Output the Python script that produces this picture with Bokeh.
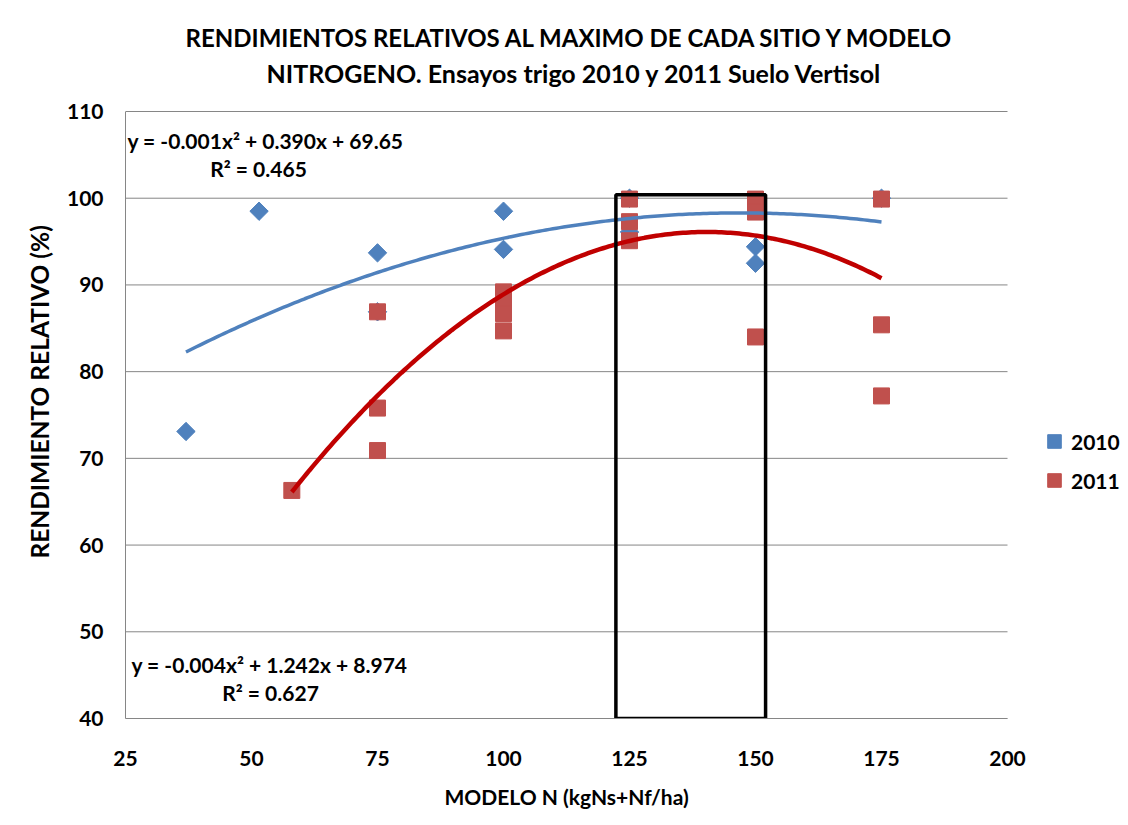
import numpy as np
from bokeh.plotting import figure
from bokeh.models import Range1d, FixedTicker, Label, Legend, LegendItem, Title
from bokeh.embed import file_html
from bokeh.resources import INLINE

# ---------------- data ----------------
x_2010 = [37, 51.5, 75, 75, 100, 100, 125, 125, 150, 150, 175]
y_2010 = [73.1, 98.5, 93.7, 86.9, 98.5, 94.1, 100.0, 96.1, 94.4, 92.5, 100.0]

x_2011 = [58, 75, 75, 75, 100, 100, 100, 100, 125, 125, 125, 150, 150, 150, 175, 175, 175]
y_2011 = [66.3, 86.9, 75.8, 70.9, 89.2, 88.0, 86.7, 84.7, 99.9, 97.3, 95.1,
          99.9, 98.4, 84.0, 99.9, 85.4, 77.2]

# quadratic trend-line coefficients (a, b, c) as drawn in the chart
coef_2010 = [-0.001327, 0.390, 69.65]
coef_2011 = [-0.004426, 1.242, 8.974]

eq_2010 = ["y = -0.001x² + 0.390x + 69.65", "R² = 0.465"]
eq_2011 = ["y = -0.004x² + 1.242x + 8.974", "R² = 0.627"]

series_names = ["2010", "2011"]
title_lines = ["RENDIMIENTOS RELATIVOS AL MAXIMO DE CADA SITIO Y MODELO",
               "NITROGENO. Ensayos trigo 2010 y 2011 Suelo Vertisol"]
x_label = "MODELO N (kgNs+Nf/ha)"
y_label = "RENDIMIENTO RELATIVO (%)"

x_ticks = [25, 50, 75, 100, 125, 150, 175, 200]
y_ticks = [40, 50, 60, 70, 80, 90, 100, 110]

# highlight box (N range)
box_x = [122.3, 152.0]
box_y = [40.0, 100.4]

# ---------------- layout ----------------
W, H = 1128, 821
FRAME_L, FRAME_R_AXIS, FRAME_TOP_AXIS, FRAME_B = 125, 1007, 111, 718
px_x = (FRAME_R_AXIS - FRAME_L) / (x_ticks[-1] - x_ticks[0])
px_y = (FRAME_B - FRAME_TOP_AXIS) / (y_ticks[-1] - y_ticks[0])
x_end = x_ticks[-1] + (W - FRAME_R_AXIS) / px_x      # frame extends to the right edge
y_end = y_ticks[-1] + FRAME_TOP_AXIS / px_y           # frame extends to the top edge

def sx(px):  # screen x -> data x
    return x_ticks[0] + (px - FRAME_L) / px_x

def sy(py):  # screen y -> data y
    return y_ticks[0] + (FRAME_B - py) / px_y

FONT = "Lato"
BLUE = "#4F81BD"
RED_M = "#C0504D"
RED_L = "#C00000"
GRID = "#868686"

p = figure(width=W, height=H,
           x_range=Range1d(x_ticks[0], x_end),
           y_range=Range1d(y_ticks[0], y_end),
           output_backend="svg", toolbar_location=None,
           min_border_left=FRAME_L, min_border_right=0,
           min_border_top=0, min_border_bottom=H - FRAME_B)
p.outline_line_color = None
p.background_fill_color = "white"
p.border_fill_color = "white"
p.xgrid.visible = False
p.ygrid.visible = False

p.xaxis.ticker = FixedTicker(ticks=x_ticks)
p.yaxis.ticker = FixedTicker(ticks=y_ticks)
p.xaxis.bounds = (x_ticks[0], x_ticks[-1])
p.yaxis.bounds = (y_ticks[0], y_ticks[-1])
for ax in (p.xaxis[0], p.yaxis[0]):
    ax.axis_line_color = GRID
    ax.major_tick_line_color = None
    ax.minor_tick_line_color = None
    ax.major_label_text_font = FONT
    ax.major_label_text_font_style = "bold"
    ax.major_label_text_font_size = "21px"
    ax.major_label_text_color = "black"
p.xaxis.major_label_standoff = 26
p.yaxis.major_label_standoff = 16

# axis titles, placed along the axis extent
p.add_layout(Title(text=x_label, align="left", text_font=FONT,
                   text_font_style="bold", text_font_size="21px",
                   text_color="black", offset=444 - FRAME_L, standoff=26), "below")
p.add_layout(Title(text=y_label, align="left", text_font=FONT,
                   text_font_style="bold", text_font_size="24.5px",
                   text_color="black", offset=FRAME_B - 558, standoff=20), "left")

# horizontal gridlines limited to the axis extent
n = len(y_ticks)
p.segment(x0=[x_ticks[0]] * n, x1=[x_ticks[-1]] * n, y0=y_ticks, y1=y_ticks,
          line_color=GRID, line_width=1)

# trend lines
xs1 = np.linspace(min(x_2010), max(x_2010), 200)
ys1 = np.polyval(coef_2010, xs1)
xs2 = np.linspace(min(x_2011), max(x_2011), 200)
ys2 = np.polyval(coef_2011, xs2)

r_blue = p.scatter(x_2010, y_2010, marker="square", angle=np.pi / 4, size=13,
                   fill_color=BLUE, line_color=BLUE)
r_red = p.scatter(x_2011, y_2011, marker="square", size=16,
                  fill_color=RED_M, line_color=RED_M)
p.line(xs1, ys1, line_color=BLUE, line_width=3.5)
p.line(xs2, ys2, line_color=RED_L, line_width=4.5)

# highlight rectangle
p.quad(left=[box_x[0]], right=[box_x[1]], bottom=[box_y[0]], top=[box_y[1]],
       fill_color=None, line_color="black", line_width=3.5)

def text_label(x, y, txt, size):
    p.add_layout(Label(x=x, y=y, text=txt, text_align="center",
                       text_baseline="middle", text_font=FONT,
                       text_font_style="bold", text_font_size=size,
                       text_color="black"))

# title
text_label(sx(570), sy(37), title_lines[0], "24px")
text_label(sx(574), sy(72), title_lines[1], "25px")

# equations
text_label(sx(265), sy(140), eq_2010[0], "21px")
text_label(sx(258), sy(168), eq_2010[1], "21px")
text_label(sx(269), sy(664), eq_2011[0], "21px")
text_label(sx(270), sy(692), eq_2011[1], "21px")

legend = Legend(items=[LegendItem(label=series_names[0], renderers=[r_blue]),
                       LegendItem(label=series_names[1], renderers=[r_red])],
                location=(1037 - FRAME_L, 221), orientation="vertical",
                label_text_font=FONT, label_text_font_style="bold",
                label_text_font_size="21px", label_text_color="black",
                border_line_color=None, background_fill_alpha=0,
                spacing=5, glyph_width=34, glyph_height=34, padding=4,
                label_standoff=0, margin=0)
p.add_layout(legend, "center")

open("out.html", "w").write(file_html(p, INLINE))
